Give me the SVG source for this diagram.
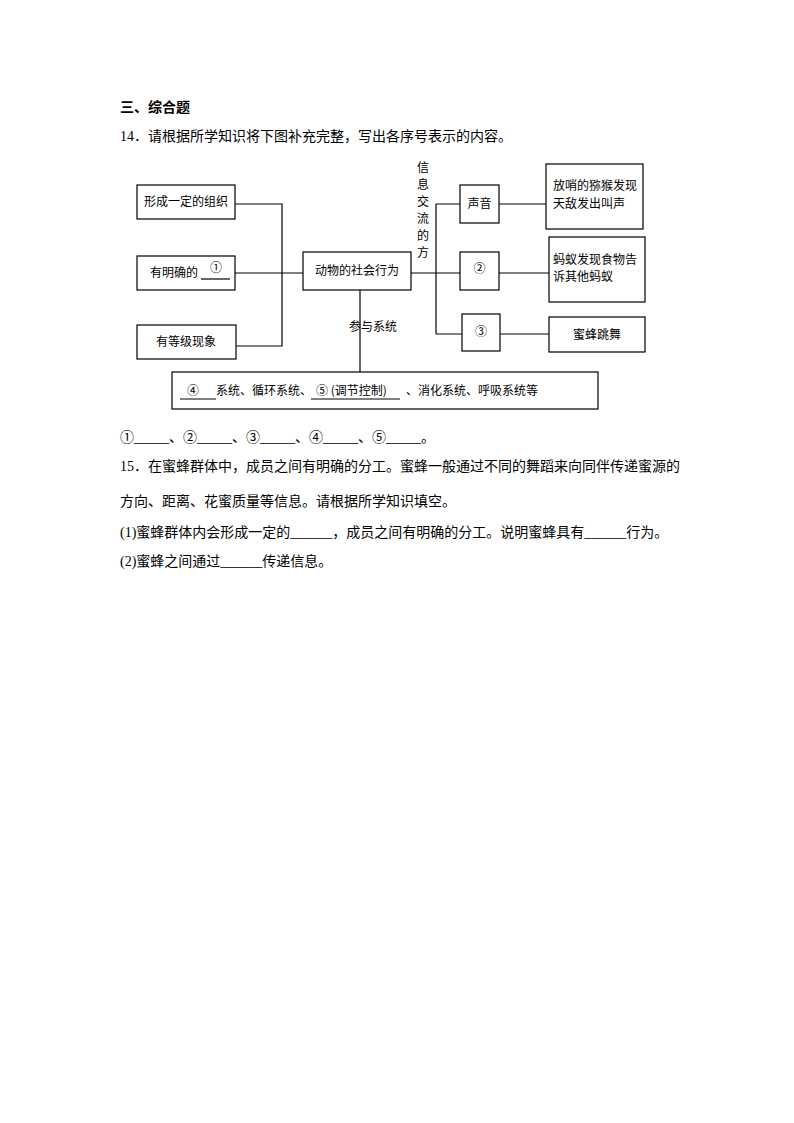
<svg xmlns="http://www.w3.org/2000/svg" width="794" height="1123" viewBox="0 0 794 1123">
<style>
.t{font-family:"Liberation Serif","Noto Sans CJK SC",serif;font-size:14px;fill:#000}
.d{font-family:"Noto Sans CJK SC",sans-serif;font-size:12px;fill:#000}
.b{fill:#fff;stroke:#000;stroke-width:1.2}
.l{stroke:#000;stroke-width:1.2;fill:none}
</style>
<rect width="794" height="1123" fill="#fff"/>
<text class="t" x="120" y="112" font-weight="bold">三、综合题</text>
<text class="t" x="120" y="141">14．请根据所学知识将下图补充完整，写出各序号表示的内容。</text>
<g id="connectors">
<path class="l" d="M235 204H282V346H236M235 273H303M282 273H303"/>
<path class="l" d="M411 273H460M436 204V334M436 204H460M436 334H462"/>
<path class="l" d="M499 204H546M499 273H549M500 334H549"/>
<path class="l" d="M360 290V372"/>
</g>
<g id="n1"><rect class="b" x="137" y="185" width="98" height="34"/><text class="d" x="186" y="206" text-anchor="middle">形成一定的组织</text></g>
<g id="n2"><rect class="b" x="137" y="256" width="98" height="34"/><text class="d" x="150" y="277">有明确的</text><text class="d" x="216" y="272" text-anchor="middle">①</text><path class="l" d="M201 279H230"/></g>
<g id="n3"><rect class="b" x="137" y="325" width="99" height="34"/><text class="d" x="186" y="346" text-anchor="middle">有等级现象</text></g>
<g id="center"><rect class="b" x="303" y="252" width="108" height="38"/><text class="d" x="357" y="275" text-anchor="middle">动物的社会行为</text></g>
<g id="label-info"><text class="d" text-anchor="middle"><tspan x="423" y="172">信</tspan><tspan x="423" y="189">息</tspan><tspan x="423" y="206">交</tspan><tspan x="423" y="223">流</tspan><tspan x="423" y="240">的</tspan><tspan x="423" y="257">方</tspan><tspan x="423" y="266" dy="0"></tspan></text><text class="d" x="423" y="266" text-anchor="middle" dy="0" style="display:none"></text></g>
<g id="sound"><rect class="b" x="460" y="185" width="39" height="38"/><text class="d" x="479.5" y="208" text-anchor="middle">声音</text></g>
<g id="c2"><rect class="b" x="460" y="252" width="39" height="38"/><text class="d" x="479.5" y="273" text-anchor="middle">②</text></g>
<g id="c3"><rect class="b" x="462" y="314" width="38" height="37"/><text class="d" x="481" y="336" text-anchor="middle">③</text></g>
<g id="r1"><rect class="b" x="546" y="164" width="97" height="65"/><text class="d" x="553" y="190">放哨的猕猴发现</text><text class="d" x="553" y="208">天敌发出叫声</text></g>
<g id="r2"><rect class="b" x="549" y="237" width="96" height="65"/><text class="d" x="553" y="264">蚂蚁发现食物告</text><text class="d" x="553" y="281">诉其他蚂蚁</text></g>
<g id="r3"><rect class="b" x="549" y="317" width="96" height="35"/><text class="d" x="597" y="339" text-anchor="middle">蜜蜂跳舞</text></g>
<text class="d" x="373" y="331" text-anchor="middle">参与系统</text>
<g id="bottom"><rect class="b" x="172" y="372" width="426" height="37"/>
<text class="d" x="187" y="395">④</text><path class="l" d="M180 399H216"/>
<text class="d" x="216" y="395">系统、循环系统、</text>
<text class="d" x="316" y="395">⑤ (调节控制)</text><path class="l" d="M311 399H400"/>
<text class="d" x="406" y="395">、消化系统、呼吸系统等</text></g>
<text class="t" x="120" y="442">①_____、②_____、③_____、④_____、⑤_____。</text>
<text class="t" x="120" y="471">15．在蜜蜂群体中，成员之间有明确的分工。蜜蜂一般通过不同的舞蹈来向同伴传递蜜源的</text>
<text class="t" x="120" y="506">方向、距离、花蜜质量等信息。请根据所学知识填空。</text>
<text class="t" x="120" y="537">(1)蜜蜂群体内会形成一定的______，成员之间有明确的分工。说明蜜蜂具有______行为。</text>
<text class="t" x="120" y="566">(2)蜜蜂之间通过______传递信息。</text>
</svg>
